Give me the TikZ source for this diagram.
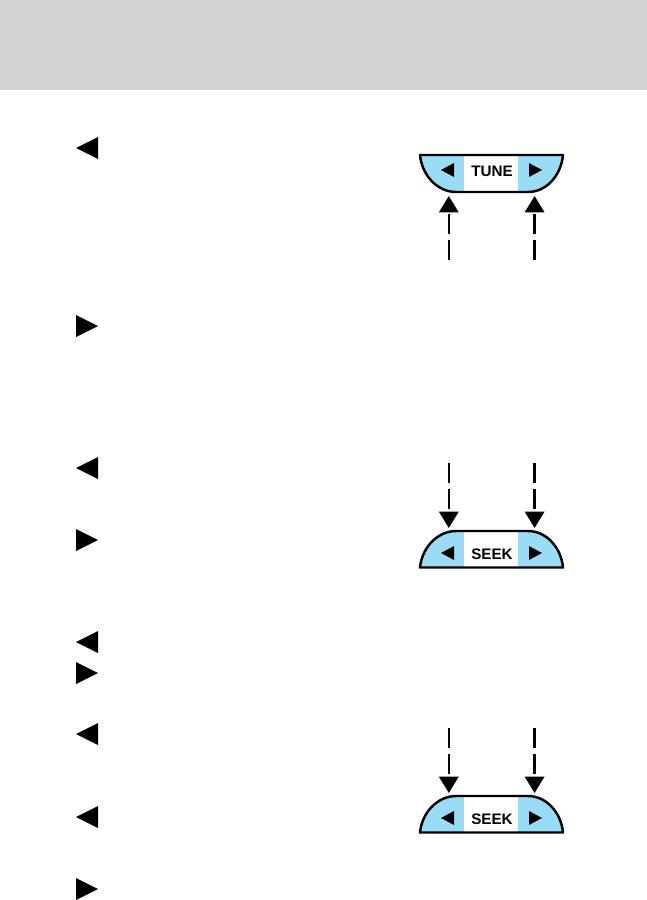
\documentclass[tikz,border=0pt]{standalone}
\usepackage{fontspec}
\setmainfont{Liberation Sans}
\usetikzlibrary{arrows.meta}
\definecolor{bandgray}{HTML}{D3D3D3}
\definecolor{panelblue}{HTML}{9ADCF6}

\begin{document}
\begin{tikzpicture}[x=0.03cm, y=-0.03cm,
        band/.style={fill=bandgray},
        panel/.style={fill=panelblue},
        shell/.style={draw=black, line width=2.1pt, line join=round},
        glyph/.style={fill=black},
        keylabel/.style={inner sep=0pt, font=\fontsize{13}{13}\selectfont\bfseries},
        press/.style={draw=black, line width=2.1pt, dash pattern=on 17pt off 5.5pt, -{Triangle[length=14pt, width=16.5pt]}}]

        \useasboundingbox (0,0) rectangle (647,900);
        \fill[band] (0,0) rectangle (647,90);

        % Triangles beside the text
        \foreach \ypos in {148,468,642,734,817} {
          \fill[glyph] (76,\ypos) -- (98,\ypos-11) -- (98,\ypos+11) -- cycle;
        }
        \foreach \ypos in {326,540,673,889} {
          \fill[glyph] (98,\ypos) -- (76,\ypos-11) -- (76,\ypos+11) -- cycle;
        }

        % Tune key
        \fill[panel] (420,155) .. controls (422,176) and (438,192) .. (456,192) -- (528,192) .. controls (546,192) and (561,176) .. (563,155) -- cycle;
        \fill[white] (464,155) rectangle (518,192);
        \fill[glyph] (441,170) -- (454,163) -- (454,177) -- cycle;
        \fill[glyph] (542,170) -- (529,163) -- (529,177) -- cycle;
        \draw[shell] (420,155) .. controls (422,176) and (438,192) .. (456,192) -- (528,192) .. controls (546,192) and (561,176) .. (563,155) -- cycle;
        \node[keylabel] (tune) at (492,171) {TUNE};

        \coordinate (tunetipl) at (448.8,196);
        \coordinate (tunetipr) at (534.6,196);
        \coordinate (tunefootl) at (448.8,260);
        \coordinate (tunefootr) at (534.6,260);
        \draw[press] (tunefootl) -- (tunetipl);
        \draw[press] (tunefootr) -- (tunetipr);

        % Seek keys
        \foreach \name/\ypos in {seeka/531,seekb/796} {
          \fill[panel] (420,\ypos+36.5) .. controls (422,\ypos+16) and (438,\ypos) .. (456,\ypos) -- (528,\ypos) .. controls (546,\ypos) and (561,\ypos+16) .. (563,\ypos+36.5) -- cycle;
          \fill[white] (464,\ypos) rectangle (518,\ypos+36.5);
          \fill[glyph] (441,\ypos+22) -- (454,\ypos+15) -- (454,\ypos+29) -- cycle;
          \fill[glyph] (542,\ypos+22) -- (529,\ypos+15) -- (529,\ypos+29) -- cycle;
          \draw[shell] (420,\ypos+36.5) .. controls (422,\ypos+16) and (438,\ypos) .. (456,\ypos) -- (528,\ypos) .. controls (546,\ypos) and (561,\ypos+16) .. (563,\ypos+36.5) -- cycle;
          \node[keylabel] (\name) at (492,\ypos+23) {SEEK};

          \coordinate (\name tipl) at (448.8,\ypos-3);
          \coordinate (\name tipr) at (534.6,\ypos-3);
          \coordinate (\name footl) at (448.8,\ypos-68);
          \coordinate (\name footr) at (534.6,\ypos-68);
          \draw[press] (\name footl) -- (\name tipl);
          \draw[press] (\name footr) -- (\name tipr);
        }
      \end{tikzpicture}
\end{document}
